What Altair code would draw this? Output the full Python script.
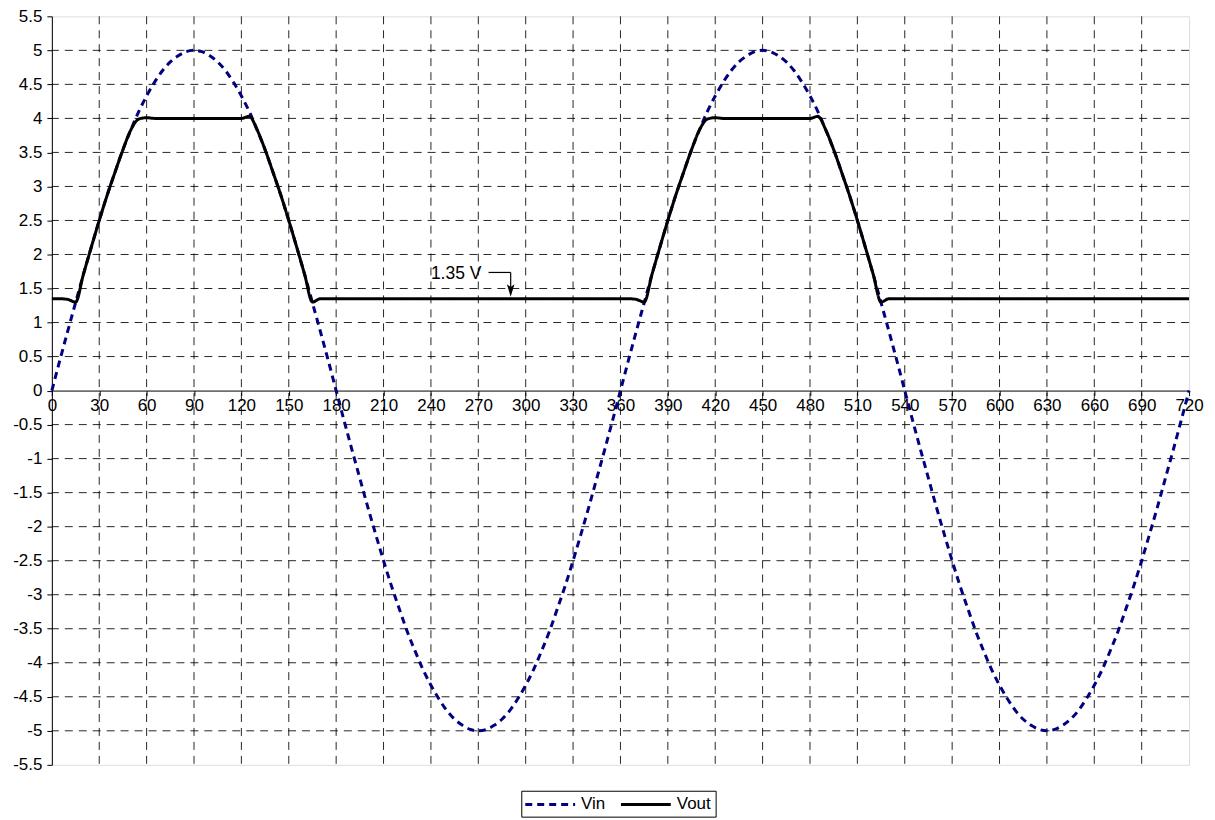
import altair as alt
import pandas as pd

# ---------------- data ----------------
deg = list(range(0, 721, 5))

vin = [
    0.00, 0.44, 0.87, 1.29, 1.71, 2.11, 2.50, 2.87, 3.21, 3.54, 3.83, 4.10, 4.33,
    4.53, 4.70, 4.83, 4.92, 4.98, 5.00, 4.98, 4.92, 4.83, 4.70, 4.53, 4.33, 4.10,
    3.83, 3.54, 3.21, 2.87, 2.50, 2.11, 1.71, 1.29, 0.87, 0.44, 0.00,
    -0.44, -0.87, -1.29, -1.71, -2.11, -2.50, -2.87, -3.21, -3.54, -3.83, -4.10,
    -4.33, -4.53, -4.70, -4.83, -4.92, -4.98, -5.00, -4.98, -4.92, -4.83, -4.70,
    -4.53, -4.33, -4.10, -3.83, -3.54, -3.21, -2.87, -2.50, -2.11, -1.71, -1.29,
    -0.87, -0.44,
    0.00, 0.44, 0.87, 1.29, 1.71, 2.11, 2.50, 2.87, 3.21, 3.54, 3.83, 4.10, 4.33,
    4.53, 4.70, 4.83, 4.92, 4.98, 5.00, 4.98, 4.92, 4.83, 4.70, 4.53, 4.33, 4.10,
    3.83, 3.54, 3.21, 2.87, 2.50, 2.11, 1.71, 1.29, 0.87, 0.44, 0.00,
    -0.44, -0.87, -1.29, -1.71, -2.11, -2.50, -2.87, -3.21, -3.54, -3.83, -4.10,
    -4.33, -4.53, -4.70, -4.83, -4.92, -4.98, -5.00, -4.98, -4.92, -4.83, -4.70,
    -4.53, -4.33, -4.10, -3.83, -3.54, -3.21, -2.87, -2.50, -2.11, -1.71, -1.29,
    -0.87, -0.44,
    0.00,
]

vout = (
    [1.35, 1.35, 1.34, 1.30]
    + [1.71, 2.11, 2.50, 2.87, 3.21, 3.54, 3.83]
    + [3.99, 4.01, 4.00, 4.00, 4.00, 4.00, 4.00, 4.00, 4.00, 4.00, 4.00, 4.00, 4.00, 4.00, 4.03]
    + [3.83, 3.54, 3.21, 2.87, 2.50, 2.11, 1.71]
    + [1.30]
    + [1.35] * 40
    + [1.34, 1.30]
    + [1.71, 2.11, 2.50, 2.87, 3.21, 3.54, 3.83]
    + [3.99, 4.01, 4.00, 4.00, 4.00, 4.00, 4.00, 4.00, 4.00, 4.00, 4.00, 4.00, 4.00, 4.00, 4.03]
    + [3.83, 3.54, 3.21, 2.87, 2.50, 2.11, 1.71]
    + [1.30]
    + [1.35] * 39
)

series_names = ["Vin", "Vout"]
x_ticks = [0, 30, 60, 90, 120, 150, 180, 210, 240, 270, 300, 330, 360, 390, 420,
           450, 480, 510, 540, 570, 600, 630, 660, 690, 720]
y_ticks = [-5.5, -5, -4.5, -4, -3.5, -3, -2.5, -2, -1.5, -1, -0.5, 0, 0.5, 1, 1.5,
           2, 2.5, 3, 3.5, 4, 4.5, 5, 5.5]
x_grid = [30, 60, 90, 120, 150, 180, 210, 240, 270, 300, 330, 360, 390, 420,
          450, 480, 510, 540, 570, 600, 630, 660, 690]
y_grid = [-5, -4.5, -4, -3.5, -3, -2.5, -2, -1.5, -1, -0.5, 0.5, 1, 1.5,
          2, 2.5, 3, 3.5, 4, 4.5, 5]

ann_text = ["1.35 V"]
ann_text_x = [240]
ann_text_y = [1.71]
arrow_x1 = [276.5]
arrow_x2 = [290.5]
arrow_ytop = [1.736]
arrow_ybot = [1.47]

# ---------------- build ----------------
rows = []
for d, a, b in zip(deg, vin, vout):
    rows.append({"deg": d, "v": a, "series": "Vin"})
    rows.append({"deg": d, "v": b, "series": "Vout"})
df = pd.DataFrame(rows)

W, H = 1141, 751
FONT = "Liberation Sans"

xscale = alt.Scale(domain=[0, 720], nice=False, zero=False)
yscale = alt.Scale(domain=[-5.5, 5.5], nice=False, zero=False)

x_axis = alt.Axis(
    values=x_ticks, title=None, grid=False, offset=-H / 2,
    tickSize=5, tickColor="#000", domainColor="#000", domainWidth=1,
    labelFontSize=17, labelFont=FONT, labelColor="#000", labelPadding=2,
    labelFlush=False, labelOverlap=False, labelBound=False,
)
y_axis = alt.Axis(
    values=y_ticks, title=None, grid=False,
    tickSize=5, tickColor="#000", domainColor="#000", domainWidth=1,
    labelFontSize=17, labelFont=FONT, labelColor="#000", labelPadding=5,
    labelExpr="toString(datum.value)", labelOverlap=False, labelFlush=False,
)

leg = alt.Legend(
    title=None, orient="none", legendX=471, legendY=777, direction="horizontal",
    symbolType="M-1.1875,0H5.0625", symbolSize=256, symbolStrokeWidth=3,
    labelFontSize=17, labelFont=FONT, labelColor="#000", labelOffset=37,
    strokeColor="#000", fillColor="#fff", padding=4, columnPadding=9,
)

gx = alt.Chart(pd.DataFrame({"gx": x_grid})).mark_rule(
    color="#000", strokeWidth=1, strokeDash=[8, 6], opacity=0.85
).encode(x=alt.X("gx:Q", scale=xscale, axis=x_axis))

gy = alt.Chart(pd.DataFrame({"gy": y_grid})).mark_rule(
    color="#000", strokeWidth=1, strokeDash=[8, 6], opacity=0.85
).encode(y=alt.Y("gy:Q", scale=yscale, axis=y_axis))

lines = alt.Chart(df).mark_line(strokeWidth=3, interpolate="monotone").encode(
    x=alt.X("deg:Q", scale=xscale, axis=x_axis),
    y=alt.Y("v:Q", scale=yscale, axis=y_axis),
    color=alt.Color("series:N", scale=alt.Scale(domain=series_names, range=["#000080", "#000000"]), legend=leg),
    strokeDash=alt.StrokeDash("series:N", scale=alt.Scale(domain=series_names, range=[[7, 5], [1, 0]]), legend=leg),
    order=alt.Order("deg:Q"),
)

adf = pd.DataFrame({"x": ann_text_x, "y": ann_text_y, "t": ann_text,
                    "x1": arrow_x1, "x2": arrow_x2, "yt": arrow_ytop, "yb": arrow_ybot})

txt = alt.Chart(adf).mark_text(align="left", baseline="middle", fontSize=17.5, font=FONT, color="#000").encode(
    x=alt.X("x:Q", scale=xscale, axis=x_axis), y=alt.Y("y:Q", scale=yscale, axis=y_axis), text="t:N")

arr_h = alt.Chart(adf).mark_rule(color="#000", strokeWidth=1.2).encode(
    x=alt.X("x1:Q", scale=xscale, axis=x_axis), x2="x2:Q", y=alt.Y("yt:Q", scale=yscale, axis=y_axis))

arr_v = alt.Chart(adf).mark_rule(color="#000", strokeWidth=1.2).encode(
    x=alt.X("x2:Q", scale=xscale, axis=x_axis), y=alt.Y("yt:Q", scale=yscale, axis=y_axis), y2="yb:Q")

arr_head = alt.Chart(adf).mark_point(
    shape="M-0.6,-1L0,1L0.6,-1L0,-0.55Z", filled=True, color="#000", size=160, opacity=1
).encode(x=alt.X("x2:Q", scale=xscale, axis=x_axis), y=alt.Y("yb:Q", scale=yscale, axis=y_axis))

chart = alt.layer(gx, gy, lines, txt, arr_h, arr_v, arr_head).properties(
    width=W, height=H,
    autosize=alt.AutoSizeParams(type="none"),
    padding={"left": 44, "top": 7, "right": 18, "bottom": 52},
).configure_view(
    stroke="#808080", strokeWidth=1.5
).configure(background="#ffffff")

chart.save("out.html", embed_options={"renderer": "svg", "actions": False})
